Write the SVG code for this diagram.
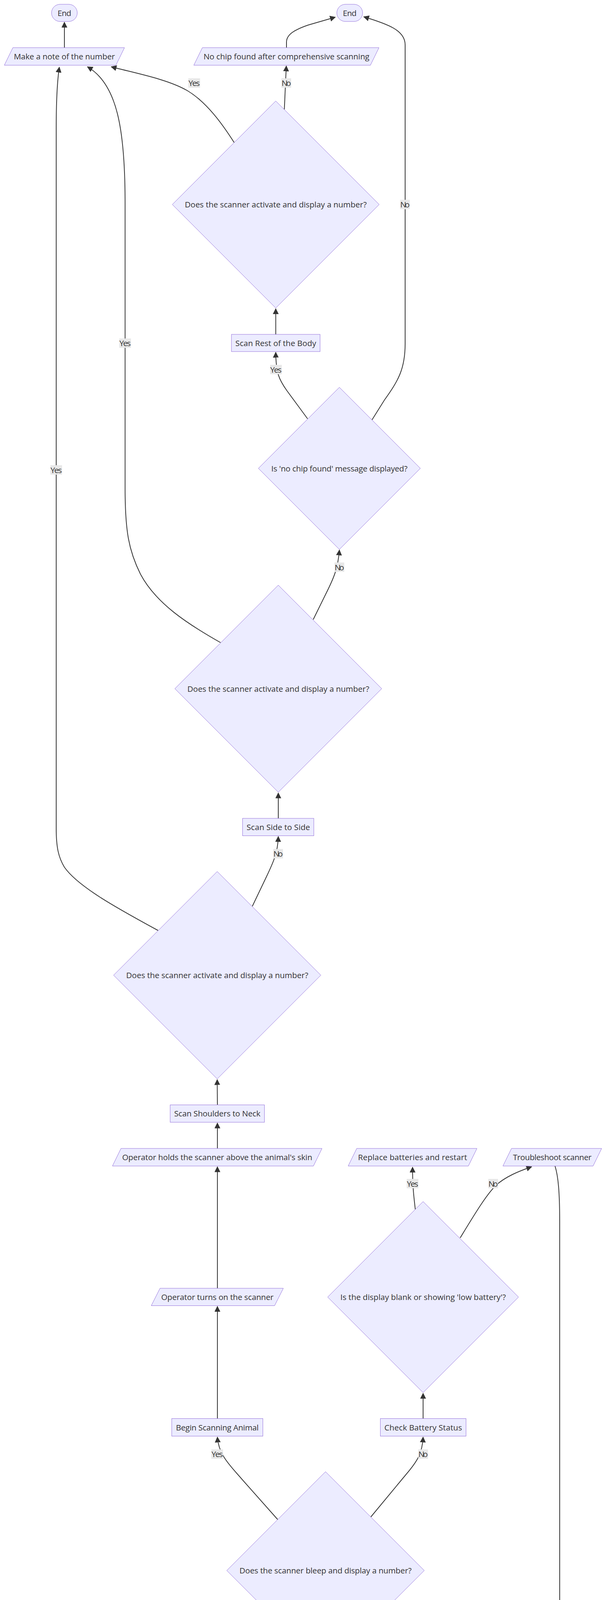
<svg xmlns="http://www.w3.org/2000/svg" width="1568" height="4780" viewBox="0 0 1568 4780">
<style>
.n rect,.n polygon{fill:#ECECFF;stroke:#9370DB;stroke-width:1}
.e path{fill:none;stroke:#333;stroke-width:2}
.e path.a{marker-end:url(#arr)}
text{font-family:"Open Sans","Liberation Sans",sans-serif;font-size:20.5px;fill:#333;text-anchor:middle}
.l rect{fill:#e8e8e8}
</style>
<defs>
<marker id="arr" viewBox="0 0 10 10" refX="9" refY="5" markerUnits="userSpaceOnUse" markerWidth="15" markerHeight="15" orient="auto"><path d="M0,0 L10,5 L0,10 z" fill="#333"/></marker>
</defs>
<rect width="1568" height="4780" fill="#fff"/>
<g id="edges" class="e">
<path class="a" d="M165,122 L165,57"/>
<path class="a" d="M734,122 L734,108 C734,88 755,76 790,64 L859,44"/>
<path class="a" d="M728.5,280 L733.5,169"/>
<path class="a" d="M600,365 C570,318 530,262 480,232 C430,203 350,188 285,171"/>
<path class="a" d="M405,2382 C300,2325 200,2270 165,2220 C150,2195 144,2170 144,2120 L144,330 C144,250 147,205 152,172"/>
<path class="a" d="M565,1645 C480,1597 400,1545 360,1470 C330,1410 320.5,1360 320.5,1250 L320.5,520 C320.5,330 300,215 224,171"/>
<path class="a" d="M706.5,856 L706.5,790.5"/>
<path class="a" d="M953,1075 L985,1024 C1020,975 1038,945 1038,880 L1038,115 C1038,78 995,62 932,43"/>
<path class="a" d="M788,1072 L735,1000 C715,972 707,955 706.5,902"/>
<path class="a" d="M802.5,1586 L836,1518 C855,1480 866,1455 869.5,1408"/>
<path class="a" d="M713,2095 L713,2030"/>
<path class="a" d="M646.5,2320 L680,2250 C698,2212 712,2185 713,2141.5"/>
<path class="a" d="M557,2828.5 L556.5,2764"/>
<path class="a" d="M557,2940 L557,2875"/>
<path class="a" d="M557,3298 L557,2987"/>
<path class="a" d="M557,3631.5 L557,3344.5"/>
<path class="a" d="M711.5,3890 L620,3787 C590,3752 560,3725 557,3679"/>
<path class="a" d="M950,3883.5 L1040,3775 C1070,3740 1082,3720 1084,3679"/>
<path class="a" d="M834,4340.5 L834,4275.5"/>
<path class="a" d="M834,4452 L834,4387"/>
<path class="a" d="M834,4563 L834,4498.5"/>
<path class="a" d="M947,4682 C880,4650 834,4640 834,4610"/>
<path class="a" d="M1084,3631.5 L1084,3567"/>
<path class="a" d="M1064,3096 C1060,3060 1057,3040 1057,2988"/>
<path class="a" d="M1179,3169 C1215,3110 1245,3060 1270,3035 C1295,3012 1330,2998 1362,2987"/>
<path class="a" d="M1422,2985 C1430,3010 1434,3050 1434,3130 L1434,4592 C1434,4630 1400,4640 1326,4652 L1027,4692"/>
</g>
<g id="edge-labels" class="l">
<g><rect x="482.5" y="200.5" width="30" height="24"/><text x="497.5" y="220" textLength="29">Yes</text></g>
<g><rect x="721" y="200.5" width="25" height="24"/><text x="733.5" y="220" textLength="24">No</text></g>
<g><rect x="692" y="934" width="30" height="24"/><text x="707" y="953.5" textLength="29">Yes</text></g>
<g><rect x="1025" y="511.5" width="25" height="24"/><text x="1037.5" y="531" textLength="24">No</text></g>
<g><rect x="305.5" y="866.5" width="30" height="24"/><text x="320.5" y="886" textLength="29">Yes</text></g>
<g><rect x="857" y="1440" width="25" height="24"/><text x="869.5" y="1459.5" textLength="24">No</text></g>
<g><rect x="129" y="1191" width="30" height="24"/><text x="144" y="1210.5" textLength="29">Yes</text></g>
<g><rect x="700" y="2173.5" width="25" height="24"/><text x="712.5" y="2193" textLength="24">No</text></g>
<g><rect x="1042" y="3018" width="30" height="24"/><text x="1057" y="3037.5" textLength="29">Yes</text></g>
<g><rect x="1251" y="3018" width="25" height="24"/><text x="1263.5" y="3037.5" textLength="24">No</text></g>
<g><rect x="541.5" y="3710.5" width="30" height="24"/><text x="556.5" y="3730" textLength="29">Yes</text></g>
<g><rect x="1071.5" y="3710.5" width="25" height="24"/><text x="1084" y="3730" textLength="24">No</text></g>
</g>
<g id="end1" class="n"><rect x="132" y="11" width="66" height="44" rx="22" ry="22"/><text x="165" y="40.5" textLength="35">End</text></g>
<g id="end2" class="n"><rect x="863" y="11" width="66" height="44" rx="22" ry="22"/><text x="896" y="40.5" textLength="35">End</text></g>
<g id="make-note" class="n"><polygon points="33,122 319,122 297,167 11,167"/><text x="165" y="152" textLength="259">Make a note of the number</text></g>
<g id="no-chip" class="n"><polygon points="518.5,122 971,122 949,167 496.5,167"/><text x="734" y="152" textLength="425">No chip found after comprehensive scanning</text></g>
<g id="decision1" class="n"><polygon points="706.5,258.5 971.5,523.5 706.5,788.5 441.5,523.5"/><text x="706.5" y="531" textLength="466">Does the scanner activate and display a number?</text></g>
<g id="scan-rest" class="n"><rect x="593" y="856" width="227" height="44"/><text x="706.5" y="885.5" textLength="207">Scan Rest of the Body</text></g>
<g id="decision2" class="n"><polygon points="869.5,991.5 1077,1199 869.5,1406.5 662,1199"/><text x="869.5" y="1206.5" textLength="349">Is 'no chip found' message displayed?</text></g>
<g id="decision3" class="n"><polygon points="713,1498 978,1763 713,2028 448,1763"/><text x="713" y="1770.5" textLength="466">Does the scanner activate and display a number?</text></g>
<g id="scan-side" class="n"><rect x="621.5" y="2095" width="182.5" height="44.5"/><text x="713" y="2124.8" textLength="162.5">Scan Side to Side</text></g>
<g id="decision4" class="n"><polygon points="556.5,2231 822,2496.5 556.5,2762 291,2496.5"/><text x="556.5" y="2504" textLength="466.5">Does the scanner activate and display a number?</text></g>
<g id="scan-shoulders" class="n"><rect x="436" y="2828.5" width="241.5" height="44.5"/><text x="556.75" y="2858.3" textLength="221">Scan Shoulders to Neck</text></g>
<g id="operator-holds" class="n"><polygon points="310,2940 825,2940 803,2985 288,2985"/><text x="556.5" y="2970" textLength="487">Operator holds the scanner above the animal's skin</text></g>
<g id="operator-turns-on" class="n"><polygon points="410,3298 726,3298 703.5,3342.5 387.5,3342.5"/><text x="557" y="3327.8" textLength="288">Operator turns on the scanner</text></g>
<g id="replace-batteries" class="n"><polygon points="914,2940 1222,2940 1200,2985 892,2985"/><text x="1057" y="2970" textLength="279.5">Replace batteries and restart</text></g>
<g id="troubleshoot" class="n"><polygon points="1310.5,2940 1541.5,2940 1519.5,2985 1288.5,2985"/><text x="1415" y="2970" textLength="201.5">Troubleshoot scanner</text></g>
<g id="decision5" class="n"><polygon points="1084,3076 1328.5,3320.5 1084,3565 839.5,3320.5"/><text x="1084" y="3328" textLength="424">Is the display blank or showing 'low battery'?</text></g>
<g id="begin-scanning" class="n"><rect x="440" y="3631.5" width="233.5" height="45"/><text x="556.75" y="3661.5" textLength="212">Begin Scanning Animal</text></g>
<g id="check-battery" class="n"><rect x="974.5" y="3631.5" width="219.5" height="45"/><text x="1084.25" y="3661.5" textLength="199">Check Battery Status</text></g>
<g id="decision6" class="n"><polygon points="834,3767.5 1087,4020.5 834,4273.5 581,4020.5"/><text x="834" y="4028" textLength="441">Does the scanner bleep and display a number?</text></g>
<g id="pass-sensor" class="n"><rect x="692.5" y="4340.5" width="283" height="44.5"/><text x="834" y="4370.3" textLength="260.5">Pass sensor over a test chip</text></g>
<g id="operator-presses" class="n"><polygon points="697.5,4452 993,4452 971,4496.5 675,4496.5"/><text x="834" y="4481.8" textLength="267">Operator presses 'on' button</text></g>
<g id="check-scanner" class="n"><rect x="688.5" y="4563" width="291" height="45"/><text x="834" y="4593" textLength="270">Check Scanner Functionality</text></g>
<g id="start" class="n"><rect x="947" y="4675" width="77.5" height="45" rx="22.5" ry="22.5"/><text x="985.75" y="4705" textLength="46">Start</text></g>
</svg>
